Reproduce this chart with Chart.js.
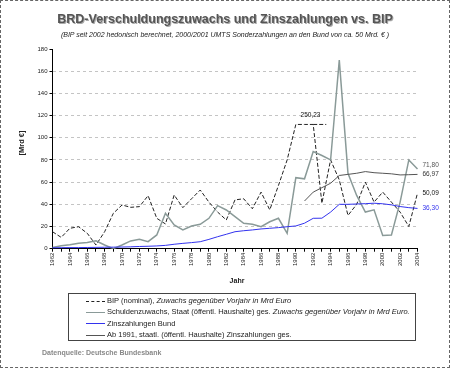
<!DOCTYPE html>
<html>
<head>
<meta charset="utf-8">
<script src="https://cdn.jsdelivr.net/npm/chart.js@4/dist/chart.umd.min.js"></script>
<style>
  body { margin: 0; background: #fff; }
  #wrap { position: relative; width: 450px; height: 368px; font-family: "Liberation Sans", Arial, sans-serif; color: #222; }
  #frame { position: absolute; left: 0; top: 0; width: 450px; height: 368px; box-sizing: border-box; border: 1px dashed #666; }
  canvas { position: absolute; left: 0; top: 0; }
  .txt { position: absolute; white-space: nowrap; }
  #title { left: 0; top: 11px; width: 450px; text-align: center; font-weight: bold; font-size: 12.5px; line-height: 16px; color: #555; text-shadow: 1px 1px 0 #aaa; }
  #subtitle { left: 0; top: 30px; width: 450px; text-align: center; font-style: italic; font-size: 7px; line-height: 9px; }
  #ytitle { left: 2px; top: 136px; width: 40px; text-align: center; font-weight: bold; font-size: 7.5px; line-height: 14px; transform: rotate(-90deg); }
  #xtitle { left: 217px; top: 276px; width: 40px; text-align: center; font-weight: bold; font-size: 7px; line-height: 10px; }
  #legend { position: absolute; left: 68px; top: 293px; width: 348px; height: 48px; box-sizing: border-box; border: 1px solid #444; }
  .row { position: absolute; left: 17px; height: 11px; font-size: 7.5px; line-height: 11px; white-space: nowrap; }
  .sample { display: inline-block; width: 19px; height: 0; vertical-align: middle; margin-right: 2px; }
  #footer { left: 42px; top: 348px; font-weight: bold; font-size: 7px; line-height: 9px; color: #888; }
</style>
</head>
<body>
<div id="wrap">
  <canvas id="chart" width="450" height="368"></canvas>
  <div id="frame"></div>
  <div class="txt" id="title">BRD-Verschuldungszuwachs und Zinszahlungen vs. BIP</div>
  <div class="txt" id="subtitle">(BIP seit 2002 hedonisch berechnet, 2000/2001 UMTS Sonderzahlungen an den Bund von ca. 50 Mrd. € )</div>
  <div class="txt" id="ytitle">[Mrd €]</div>
  <div class="txt" id="xtitle">Jahr</div>
  <div id="legend">
    <div class="row" style="top:1px"><span class="sample" style="border-top:1px dashed #222"></span>BIP (nominal), <i>Zuwachs gegenüber Vorjahr in Mrd Euro</i></div>
    <div class="row" style="top:12px"><span class="sample" style="border-top:1.5px solid #8a9a98"></span>Schuldenzuwachs, Staat (öffentl. Haushalte) ges. <i>Zuwachs gegenüber Vorjahr in Mrd Euro.</i></div>
    <div class="row" style="top:23.5px"><span class="sample" style="border-top:1px solid #3333ee"></span>Zinszahlungen Bund</div>
    <div class="row" style="top:35px"><span class="sample" style="border-top:1px solid #555"></span>Ab 1991, staatl. (öffentl. Haushalte) Zinszahlungen ges.</div>
  </div>
  <div class="txt" id="footer">Datenquelle: Deutsche Bundesbank</div>
</div>
<script>
// Jahre (Kategorien)
const years = ['1962','1963','1964','1965','1966','1967','1968','1969','1970','1971',
  '1972','1973','1974','1975','1976','1977','1978','1979','1980','1981',
  '1982','1983','1984','1985','1986','1987','1988','1989','1990','1991',
  '1992','1993','1994','1995','1996','1997','1998','1999','2000','2001',
  '2002','2003','2004'];

// BIP nominal, Zuwachs gegenueber Vorjahr (1991 = 250,23, abgeschnitten dargestellt)
const bipGrowth = [15.3, 10.2, 18.4, 19.8, 13.9, 3.3, 15.3, 31.9, 39.4, 37.3,
  37.9, 47.8, 27.4, 22.3, 48.4, 37, 45, 52.9, 42, 33,
  25.9, 44, 45, 36, 51, 35, 57, 80, 112, 112,
  112, 41, 80, 62, 30, 40, 60, 42, 51, 42,
  33, 20, 50.09];

// Schuldenzuwachs Staat ges.
const debtGrowth = [1, 2.7, 3.5, 4.9, 5.5, 7.2, 3.3, 0, 3.3, 7,
  8.4, 6.3, 12.4, 31.9, 21.4, 16.9, 20.5, 22, 27.4, 38.8,
  34.9, 28.9, 22.9, 22, 19.8, 24.3, 27.4, 13.9, 64, 63,
  87.5, 84, 80, 170, 68, 48, 33, 35, 12, 12.4,
  42, 80, 71.8];

// Zinszahlungen Bund
const interestFederal = [0.8, 0.9, 1, 1, 1.1, 1.2, 1.3, 1.4, 1.5, 1.7,
  2, 2.2, 2.5, 3, 4, 4.8, 5.5, 6.3, 8.4, 10.8,
  13, 15.3, 16.2, 16.9, 17.8, 18.4, 19, 19.8, 20.5, 23,
  27.4, 27.5, 33, 40, 40, 40.3, 40.6, 41, 40.5, 39.5,
  38, 37, 36.3];

// Ab 1991: staatl. Zinszahlungen ges.
const interestTotal = [null, null, null, null, null, null, null, null, null, null,
  null, null, null, null, null, null, null, null, null, null,
  null, null, null, null, null, null, null, null, null, 43,
  51, 55, 59, 66, 67, 68, 69.5, 68.5, 68, 67.5,
  66.5, 66.7, 66.97];

const yTicks = [0, 20, 40, 60, 80, 100, 120, 140, 160, 180];

const FONT = '"Liberation Sans", Arial, sans-serif';

// Datenbeschriftungen am Ende der Reihen
const endLabels = {
  id: 'endLabels',
  afterDatasetsDraw(chart) {
    const ctx = chart.ctx;
    const xs = chart.scales.x, ys = chart.scales.y;
    const last = years.length - 1;
    ctx.save();
    ctx.font = '6.5px ' + FONT;
    ctx.textBaseline = 'middle';
    ctx.textAlign = 'left';
    const items = [
      [debtGrowth[last], '71,80', '#555', -4],
      [interestTotal[last], '66,97', '#333', 0],
      [bipGrowth[last], '50,09', '#111', 0],
      [interestFederal[last], '36,30', '#3333ee', 0]
    ];
    const xEnd = xs.getPixelForValue(last);
    items.forEach(function (it) {
      ctx.fillStyle = it[2];
      ctx.fillText(it[1], xEnd + 5, ys.getPixelForValue(it[0]) + it[3]);
    });
    // 1991-Wert ueber der abgeschnittenen Spitze
    const i91 = years.indexOf('1991');
    const i92 = years.indexOf('1992');
    const yTop = ys.getPixelForValue(bipGrowth[i92]);
    const x1 = xs.getPixelForValue(i92);
    const x2 = (xs.getPixelForValue(i92 + 1) + xs.getPixelForValue(i92 + 2)) / 2;
    ctx.strokeStyle = '#222';
    ctx.lineWidth = 1;
    ctx.setLineDash([4, 2]);
    ctx.beginPath();
    ctx.moveTo(x1, yTop);
    ctx.lineTo(x2, yTop);
    ctx.stroke();
    ctx.fillStyle = '#111';
    ctx.textAlign = 'center';
    ctx.fillText('250,23', xs.getPixelForValue(i91) + 6, yTop - 9);
    ctx.restore();
  }
};

new Chart(document.getElementById('chart'), {
  type: 'line',
  data: {
    labels: years,
    datasets: [
      { label: 'Zinszahlungen Bund', data: interestFederal, borderColor: '#3333ee', borderWidth: 1 },
      { label: 'Ab 1991, staatl. (öffentl. Haushalte) Zinszahlungen ges.', data: interestTotal, borderColor: '#555', borderWidth: 1 },
      { label: 'Schuldenzuwachs, Staat (öffentl. Haushalte) ges.', data: debtGrowth, borderColor: '#8a9a98', borderWidth: 1.5 },
      { label: 'BIP (nominal)', data: bipGrowth, borderColor: '#222', borderWidth: 1, borderDash: [4, 2] }
    ]
  },
  options: {
    responsive: false,
    animation: false,
    devicePixelRatio: 1,
    layout: { padding: { left: 0, top: 49, right: 32.5, bottom: 99.3 } },
    elements: { point: { radius: 0 }, line: { tension: 0 } },
    plugins: { legend: { display: false }, tooltip: { enabled: false } },
    scales: {
      x: {
        afterFit(scale) { scale.height = 20; },
        grid: { drawOnChartArea: false, drawTicks: true, tickLength: 3, tickColor: '#000' },
        border: { color: '#000', width: 1 },
        ticks: {
          autoSkip: false, maxRotation: 90, minRotation: 90, padding: 1,
          color: '#222', font: { family: FONT, size: 6 },
          callback: function (v, i) { return i % 2 === 0 ? years[i] : ''; }
        }
      },
      y: {
        min: 0, max: 180,
        afterFit(scale) { scale.width = 52.5; },
        afterBuildTicks(scale) { scale.ticks = yTicks.map(function (v) { return { value: v }; }); },
        grid: {
          color: function (c) { return (c.tick.value === 0 || c.tick.value === 180) ? 'rgba(0,0,0,0)' : '#c4c4c4'; },
          tickColor: '#000', tickLength: 3, tickBorderDash: []
        },
        border: { color: '#000', width: 1, dash: [3, 3] },
        ticks: { padding: 2, color: '#222', font: { family: FONT, size: 6 } }
      }
    }
  },
  plugins: [endLabels]
});
</script>
</body>
</html>
